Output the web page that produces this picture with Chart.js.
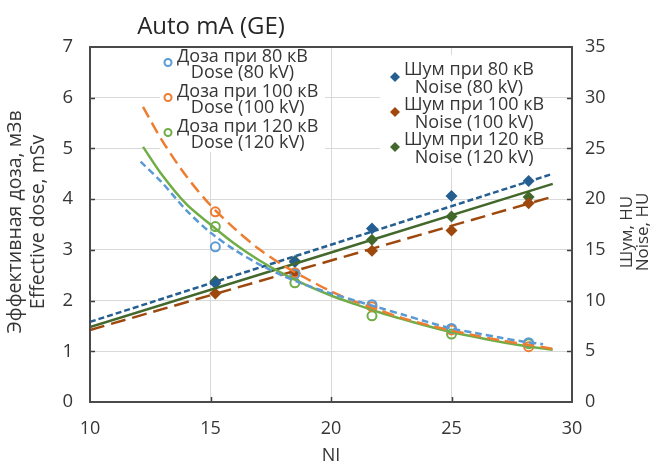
<!DOCTYPE html>
<html>
<head>
<meta charset="utf-8">
<script src="https://cdn.jsdelivr.net/npm/chart.js@4.4.0/dist/chart.umd.min.js"></script>
<style>
  html, body { margin: 0; padding: 0; background: #fff; }
</style>
</head>
<body>
<canvas id="chart" width="652" height="463"></canvas>
<script>
// Measured points (NI on x)
const niPoints = [15.2, 18.5, 21.7, 25.0, 28.2];
const dose80 = [3.06, 2.52, 1.92, 1.45, 1.17];
const dose100 = [3.75, 2.55, 1.88, 1.42, 1.09];
const dose120 = [3.46, 2.35, 1.70, 1.34, 1.15];
const noise80 = [11.7, 13.8, 17.1, 20.3, 21.8];
const noise100 = [10.7, 12.7, 14.9, 16.9, 19.6];
const noise120 = [11.9, 13.9, 16.0, 18.3, 20.2];

// Trend lines
const doseTrendX80 = [12.1, 13, 14, 15, 16, 17, 18, 19, 20, 21, 22, 23, 24, 25, 26, 27, 28, 28.8];
const doseTrend80 = [4.74, 4.32, 3.78, 3.34, 3.00, 2.72, 2.49, 2.30, 2.14, 2.00, 1.86, 1.72, 1.58, 1.45, 1.36, 1.27, 1.19, 1.14];
const doseTrendX = [12.2, 13, 14, 15, 16, 17, 18, 19, 20, 21, 22, 23, 24, 25, 26, 27, 28, 29.2];
const doseTrend100 = [5.82, 5.15, 4.45, 3.88, 3.42, 3.02, 2.70, 2.43, 2.18, 1.98, 1.81, 1.65, 1.52, 1.41, 1.31, 1.22, 1.14, 1.05];
const doseTrend120 = [5.03, 4.47, 3.90, 3.50, 3.12, 2.80, 2.53, 2.30, 2.10, 1.93, 1.77, 1.63, 1.50, 1.38, 1.28, 1.19, 1.11, 1.03];
const noiseTrendX = [10, 29.2];
const noiseTrend80 = [7.9, 22.5];
const noiseTrend100 = [7.1, 20.25];
const noiseTrend120 = [7.4, 21.5];

// Axis and legend texts
const chartTitle = 'Auto mA (GE)';
const xTitle = 'NI';
const yTitle = ['Эффективная доза, мЗв', 'Effective dose, mSv'];
const y2Title = ['Шум, HU', 'Noise, HU'];
const doseLabels = [['Доза при 80 кВ', 'Dose (80 kV)'], ['Доза при 100 кВ', 'Dose (100 kV)'], ['Доза при 120 кВ', 'Dose (120 kV)']];
const noiseLabels = [['Шум при 80 кВ', 'Noise (80 kV)'], ['Шум при 100 кВ', 'Noise (100 kV)'], ['Шум при 120 кВ', 'Noise (120 kV)']];

const FONT = "'Open Sans', sans-serif";
const TEXT = '#363636';
const doseColors = ['#5b9bd5', '#ed7d31', '#70ad47'];
const noiseColors = ['#255e91', '#9e480e', '#43682b'];

function toXY(xs, ys) {
    return xs.map((x, i) => ({ x: x, y: ys[i] }));
}

function trend(xs, ys, color, dash, axis) {
    return {
        data: toXY(xs, ys),
        yAxisID: axis,
        showLine: true,
        borderColor: color,
        borderWidth: 2.5,
        borderDash: dash,
        pointRadius: 0,
        tension: 0.3,
        fill: false
    };
}

function marks(ys, color, axis, isNoise) {
    return {
        data: toXY(niPoints, ys),
        yAxisID: axis,
        showLine: false,
        pointStyle: isNoise ? 'rectRot' : 'circle',
        pointRadius: isNoise ? 6 : 4.5,
        pointBorderWidth: isNoise ? 0 : 2,
        pointBorderColor: color,
        pointBackgroundColor: isNoise ? color : 'rgba(255,255,255,0)',
        borderColor: color,
        backgroundColor: color
    };
}

// Legend boxes, frame, inner ticks and all free texts
const decorPlugin = {
    id: 'decor',
    beforeDatasetsDraw(chart) {
        const ctx = chart.ctx;
        ctx.save();
        ctx.fillStyle = '#ffffff';
        ctx.fillRect(160, 48, 165, 104);
        ctx.fillRect(380, 55, 160, 113);
        ctx.restore();
    },
    afterDatasetsDraw(chart) {
        const ctx = chart.ctx;
        const a = chart.chartArea;
        const sx = chart.scales.x, sy = chart.scales.y;
        ctx.save();

        // inner tick marks
        ctx.strokeStyle = '#404040';
        ctx.lineWidth = 1.5;
        ctx.beginPath();
        for (let v = 1; v < 7; v++) {
            const py = Math.round(sy.getPixelForValue(v)) + 0.5;
            ctx.moveTo(a.left, py); ctx.lineTo(a.left + 5, py);
            ctx.moveTo(a.right - 5, py); ctx.lineTo(a.right, py);
        }
        for (let v = 15; v < 30; v += 5) {
            const px = Math.round(sx.getPixelForValue(v)) + 0.5;
            ctx.moveTo(px, a.bottom); ctx.lineTo(px, a.bottom - 5);
        }
        ctx.stroke();

        // plot frame
        ctx.strokeStyle = '#4a4a4a';
        ctx.lineWidth = 2;
        ctx.strokeRect(a.left, a.top, a.right - a.left, a.bottom - a.top);

        // dose legend
        ctx.font = '18px ' + FONT;
        ctx.fillStyle = TEXT;
        ctx.textBaseline = 'alphabetic';
        doseLabels.forEach((lines, i) => {
            const base = 61.5 + i * 35;
            const w = ctx.measureText(lines[0]).width;
            ctx.fillStyle = TEXT;
            ctx.textAlign = 'left';
            ctx.fillText(lines[0], 177, base);
            ctx.textAlign = 'center';
            ctx.fillText(lines[1], 177 + w / 2, base + 16);
            ctx.beginPath();
            ctx.arc(168, base + 1, 3.5, 0, Math.PI * 2);
            ctx.strokeStyle = doseColors[i];
            ctx.lineWidth = 2;
            ctx.stroke();
        });

        // noise legend
        noiseLabels.forEach((lines, i) => {
            const base = 75 + i * 35;
            const w = ctx.measureText(lines[0]).width;
            ctx.fillStyle = TEXT;
            ctx.textAlign = 'left';
            ctx.fillText(lines[0], 404, base);
            ctx.textAlign = 'center';
            ctx.fillText(lines[1], 404 + w / 2, base + 18);
            const my = base + 2, mx = 395, r = 5;
            ctx.beginPath();
            ctx.moveTo(mx, my - r); ctx.lineTo(mx + r, my);
            ctx.lineTo(mx, my + r); ctx.lineTo(mx - r, my);
            ctx.closePath();
            ctx.fillStyle = noiseColors[i];
            ctx.fill();
        });

        // chart title
        ctx.fillStyle = '#262626';
        ctx.textAlign = 'center';
        ctx.font = '24px ' + FONT;
        ctx.fillText(chartTitle, 211, 34);

        // x axis title
        ctx.fillStyle = TEXT;
        ctx.font = '18px ' + FONT;
        ctx.fillText(xTitle, (a.left + a.right) / 2, 461);

        // left axis title
        ctx.save();
        ctx.font = '19.5px ' + FONT;
        ctx.translate(21, 222);
        ctx.rotate(-Math.PI / 2);
        ctx.fillText(yTitle[0], 0, 0);
        ctx.fillText(yTitle[1], 0, 23);
        ctx.restore();

        // right axis title
        ctx.save();
        ctx.translate(632, 232);
        ctx.rotate(-Math.PI / 2);
        ctx.font = '17px ' + FONT;
        ctx.fillText(y2Title[0], 0, 0);
        ctx.fillText(y2Title[1], 0, 16);
        ctx.restore();

        ctx.restore();
    }
};

function initializeChart() {
    const ctx = document.getElementById('chart').getContext('2d');
    new Chart(ctx, {
        type: 'scatter',
        data: {
            datasets: [
                trend(doseTrendX80, doseTrend80, doseColors[0], [7, 4], 'y'),
                trend(doseTrendX, doseTrend100, doseColors[1], [12, 6], 'y'),
                trend(doseTrendX, doseTrend120, doseColors[2], [], 'y'),
                trend(noiseTrendX, noiseTrend80, noiseColors[0], [6, 3], 'y2'),
                trend(noiseTrendX, noiseTrend100, noiseColors[1], [15, 7], 'y2'),
                trend(noiseTrendX, noiseTrend120, noiseColors[2], [], 'y2'),
                marks(dose80, doseColors[0], 'y', false),
                marks(dose100, doseColors[1], 'y', false),
                marks(dose120, doseColors[2], 'y', false),
                marks(noise80, noiseColors[0], 'y2', true),
                marks(noise100, noiseColors[1], 'y2', true),
                marks(noise120, noiseColors[2], 'y2', true)
            ]
        },
        options: {
            responsive: false,
            animation: false,
            devicePixelRatio: 1,
            layout: { padding: { top: 47, left: 0, right: 0, bottom: 0 } },
            plugins: {
                legend: { display: false },
                title: { display: false },
                tooltip: { enabled: false }
            },
            scales: {
                x: {
                    type: 'linear',
                    min: 10, max: 30,
                    afterFit: s => { s.height = 61; },
                    ticks: { stepSize: 5, padding: 16, color: TEXT, font: { family: FONT, size: 18 } },
                    grid: { color: '#d9d9d9', lineWidth: 1, drawTicks: false },
                    border: { display: false }
                },
                y: {
                    position: 'left',
                    min: 0, max: 7,
                    afterFit: s => { s.width = 90; },
                    ticks: { stepSize: 1, padding: 17, color: TEXT, font: { family: FONT, size: 18.5 } },
                    grid: { color: '#d9d9d9', lineWidth: 1, drawTicks: false },
                    border: { display: false }
                },
                y2: {
                    position: 'right',
                    min: 0, max: 35,
                    afterFit: s => { s.width = 80; },
                    ticks: { stepSize: 5, padding: 13, color: TEXT, font: { family: FONT, size: 18 } },
                    grid: { display: false, drawTicks: false },
                    border: { display: false }
                }
            }
        },
        plugins: [decorPlugin]
    });
}

window.onload = initializeChart;
</script>
</body>
</html>
